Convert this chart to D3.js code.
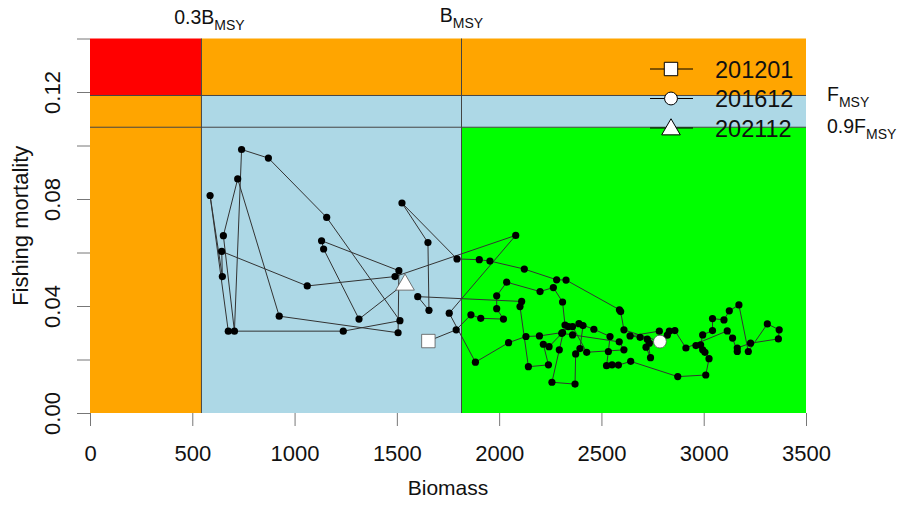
<!DOCTYPE html>
<html>
<head>
<meta charset="utf-8">
<script src="https://cdn.jsdelivr.net/npm/d3@7"></script>
<style>
  html, body { margin: 0; padding: 0; background: #ffffff; }
  svg { display: block; font-family: "Liberation Sans", Arial, Helvetica, sans-serif; }
</style>
</head>
<body>
<svg id="chart" width="897" height="506"></svg>
<script>
// Monthly biomass / fishing-mortality trajectory, 2012-01 .. 2021-12
const biomass = [
  1654, 1790, 1862, 1910, 2021, 1988, 1988, 2037, 2200, 2265,
  2310, 2322, 2294, 2258, 2371, 2374, 2395, 2410, 2390, 2463,
  2542, 2534, 2525, 2552, 2583, 2643, 2873, 3010, 3026, 3006,
  2995, 2962, 2985, 2995, 3043, 3043, 3099, 3125, 3172, 3218,
  3311, 3369, 3365, 3229, 3164, 3164, 3141, 3115, 2913, 2859,
  2832, 2822, 2734, 2718, 2740, 2724, 2689, 2640, 2783, 2786,
  2610, 2594, 2588, 2327, 2281, 2123, 1955, 1903, 1794, 1525,
  1652, 1657, 1602, 2110, 2102, 2143, 2241, 2216, 2244, 2338,
  2359, 2428, 2610, 2587, 2359, 2306, 2310, 2197, 2131, 2046,
  1884, 1756, 2081, 1491, 1062, 644, 647, 587, 676, 1238,
  1515, 1157, 872, 741, 706, 652, 722, 925, 1506, 1510,
  1132, 1142, 1315, 1540
];
const fishing = [
  0.0269, 0.0311, 0.0367, 0.0354, 0.0351, 0.0390, 0.0438, 0.0489, 0.0454, 0.0469,
  0.0415, 0.0329, 0.0236, 0.0115, 0.0108, 0.0221, 0.0241, 0.0327, 0.0334, 0.0313,
  0.0286, 0.0230, 0.0177, 0.0180, 0.0179, 0.0193, 0.0136, 0.0142, 0.0203, 0.0227,
  0.0236, 0.0252, 0.0255, 0.0292, 0.0308, 0.0353, 0.0348, 0.0382, 0.0404, 0.0230,
  0.0333, 0.0311, 0.0277, 0.0261, 0.0243, 0.0230, 0.0280, 0.0307, 0.0243, 0.0308,
  0.0306, 0.0291, 0.0261, 0.0246, 0.0207, 0.0276, 0.0283, 0.0288, 0.0306, 0.0267,
  0.0311, 0.0379, 0.0386, 0.0497, 0.0498, 0.0538, 0.0568, 0.0573, 0.0576, 0.0785,
  0.0637, 0.0384, 0.0435, 0.0417, 0.0398, 0.0173, 0.0180, 0.0257, 0.0248, 0.0323,
  0.0323, 0.0227, 0.0236, 0.0266, 0.0292, 0.0298, 0.0301, 0.0288, 0.0286, 0.0263,
  0.0190, 0.0373, 0.0664, 0.0510, 0.0475, 0.0604, 0.0510, 0.0813, 0.0306, 0.0306,
  0.0345, 0.0731, 0.0953, 0.0985, 0.0306, 0.0663, 0.0875, 0.0362, 0.0300, 0.0532,
  0.0644, 0.0613, 0.0351, 0.0485
];

// Highlighted months and their positions in the series
const keyLabels = ["201201", "201612", "202112"];
const keyIndex = [0, 59, biomass.length - 1];
const keySymbols = [d3.symbolSquare, d3.symbolCircle, d3.symbolTriangle];
const keySizes = [180, 130, 150];

// Reference points
const Bmsy = 1816;
const Fmsy = 0.1187;

const xTicks = [0, 500, 1000, 1500, 2000, 2500, 3000, 3500];
const yTicks = [0, 0.02, 0.04, 0.06, 0.08, 0.10, 0.12, 0.14];
const yTickLabels = ["0.00", "", "0.04", "", "0.08", "", "0.12", ""];

const svg = d3.select("#chart");
const x = d3.scaleLinear().domain([0, 3500]).range([90, 806]);
const y = d3.scaleLinear().domain([0, 0.14]).range([413, 38.5]);

// Status zones
const zones = [
  { x0: 0, x1: 0.3 * Bmsy, y0: Fmsy, y1: 0.14, fill: "#ff0000" },
  { x0: 0.3 * Bmsy, x1: 3500, y0: Fmsy, y1: 0.14, fill: "#ffa500" },
  { x0: 0, x1: 0.3 * Bmsy, y0: 0, y1: Fmsy, fill: "#ffa500" },
  { x0: 0.3 * Bmsy, x1: Bmsy, y0: 0, y1: Fmsy, fill: "#add8e6" },
  { x0: Bmsy, x1: 3500, y0: 0.9 * Fmsy, y1: Fmsy, fill: "#add8e6" },
  { x0: Bmsy, x1: 3500, y0: 0, y1: 0.9 * Fmsy, fill: "#00ff00" }
];
svg.append("g").selectAll("rect").data(zones).join("rect")
  .attr("x", d => x(d.x0)).attr("width", d => x(d.x1) - x(d.x0))
  .attr("y", d => y(d.y1)).attr("height", d => y(d.y0) - y(d.y1))
  .attr("fill", d => d.fill);

// Reference lines
const refLines = svg.append("g").attr("stroke", "#444").attr("stroke-width", 1);
[Fmsy, 0.9 * Fmsy].forEach(v => {
  refLines.append("line").attr("x1", x(0)).attr("x2", x(3500)).attr("y1", y(v)).attr("y2", y(v));
});
[0.3 * Bmsy, Bmsy].forEach(v => {
  refLines.append("line").attr("x1", x(v)).attr("x2", x(v)).attr("y1", y(0)).attr("y2", y(0.14));
});

// Axes (ticks only)
const xAxis = d3.axisBottom(x).tickValues(xTicks).tickSize(13).tickFormat(d3.format("d"));
const gx = svg.append("g").attr("transform", `translate(0,${y(0)})`).call(xAxis);
gx.select(".domain").remove();
gx.selectAll(".tick line").attr("stroke", "#777");
gx.selectAll(".tick text").attr("font-size", 22).attr("fill", "#111").attr("dy", "0.71em").attr("y", 32);

const yAxis = d3.axisLeft(y).tickValues(yTicks).tickSize(13).tickFormat((d, i) => yTickLabels[i]);
const gy = svg.append("g").attr("transform", `translate(${x(0)},0)`).call(yAxis);
gy.select(".domain").remove();
gy.selectAll(".tick line").attr("stroke", "#777");
gy.selectAll(".tick text")
  .attr("font-size", 22).attr("fill", "#111")
  .attr("x", null).attr("dy", null)
  .attr("text-anchor", "middle")
  .attr("transform", "translate(-30,0) rotate(-90)");

// Axis titles
svg.append("text").attr("x", (x(0) + x(3500)) / 2).attr("y", 495)
  .attr("text-anchor", "middle").attr("font-size", 21).attr("fill", "#111").text("Biomass");
svg.append("text")
  .attr("transform", `translate(28,${(y(0) + y(0.14)) / 2}) rotate(-90)`)
  .attr("text-anchor", "middle").attr("font-size", 22).attr("fill", "#111").text("Fishing mortality");

// Reference labels with subscripts
function subLabel(g, main, sub) {
  g.append("tspan").attr("font-size", 19.5).text(main);
  g.append("tspan").attr("font-size", 14).attr("dy", 6).text(sub);
}
subLabel(svg.append("text").attr("x", x(0.3 * Bmsy) + 8).attr("y", 24)
  .attr("text-anchor", "middle").attr("fill", "#111"), "0.3B", "MSY");
subLabel(svg.append("text").attr("x", x(Bmsy)).attr("y", 22)
  .attr("text-anchor", "middle").attr("fill", "#111"), "B", "MSY");
subLabel(svg.append("text").attr("x", 827).attr("y", y(Fmsy) + 6)
  .attr("fill", "#111"), "F", "MSY");
subLabel(svg.append("text").attr("x", 827).attr("y", y(0.9 * Fmsy) + 6)
  .attr("fill", "#111"), "0.9F", "MSY");

// Trajectory
const pts = biomass.map((b, i) => [b, fishing[i]]);
svg.append("path").datum(pts)
  .attr("fill", "none").attr("stroke", "#333").attr("stroke-width", 1)
  .attr("d", d3.line().x(d => x(d[0])).y(d => y(d[1])));
svg.append("g").selectAll("circle").data(pts).join("circle")
  .attr("cx", d => x(d[0])).attr("cy", d => y(d[1])).attr("r", 3.6).attr("fill", "#000");

// Highlighted months
svg.append("g").selectAll("path").data(keyIndex).join("path")
  .attr("transform", (k, i) => `translate(${x(biomass[k])},${y(fishing[k]) + (i === 2 ? 1.5 : 0)})`)
  .attr("d", (k, i) => d3.symbol().type(keySymbols[i]).size(keySizes[i])())
  .attr("fill", "#fff").attr("stroke", "#555").attr("stroke-width", 0.8);

// Legend
const legend = svg.append("g");
keyLabels.forEach((lab, i) => {
  const cy = 69 + i * 29.5;
  legend.append("line").attr("x1", 650).attr("x2", 693).attr("y1", cy).attr("y2", cy)
    .attr("stroke", "#000").attr("stroke-width", 1);
  legend.append("path").attr("transform", `translate(671,${cy + (i === 2 ? 1.5 : 0)})`)
    .attr("d", d3.symbol().type(keySymbols[i]).size(keySizes[i])())
    .attr("fill", "#fff").attr("stroke", "#000").attr("stroke-width", 1);
  legend.append("text").attr("x", 715).attr("y", cy + 8.5)
    .attr("font-size", 23.5).attr("fill", "#111").text(lab);
});
</script>
</body>
</html>
